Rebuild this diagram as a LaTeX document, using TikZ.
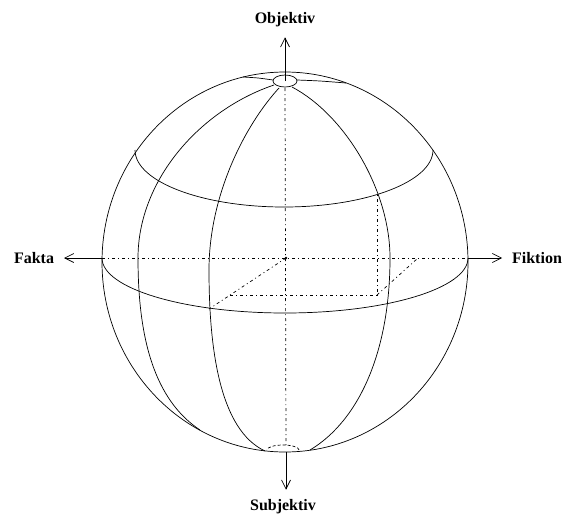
\documentclass[tikz,border=0pt]{standalone}
\usepackage{fontspec}
\setmainfont{Liberation Serif}
\usepackage{tikz}
\usetikzlibrary{positioning, arrows.meta}

\begin{document}
\begin{tikzpicture}[
  x=1pt, y=-1pt,
  >={Straight Barb[length=9pt, width=9pt]},
  globe/.style={line width=0.7pt},
  axisline/.style={line width=0.7pt, dash pattern=on 3pt off 3pt on 1pt off 3pt},
  axisarrow/.style={->, line width=0.7pt},
  axislabel/.style={font=\bfseries\fontsize{16}{19}\selectfont, inner sep=0pt, outer sep=10pt},
]
  \useasboundingbox (0,0) rectangle (569,517);

  % Points on the globe
  \coordinate (O) at (286,258);
  \coordinate (N) at (285,81);
  \coordinate (Nb) at (285,88);
  \coordinate (S) at (286,452);
  \coordinate (Sb) at (286,446);
  \coordinate (L) at (102,258);
  \coordinate (R) at (468,258);

  % Outline and pole caps
  \draw[globe] (285,262) ellipse [x radius=183, y radius=190];
  \draw[globe] (N) ellipse [x radius=12, y radius=6];
  \draw[globe] plot[smooth] coordinates {(273,80) (258,78) (243,77)};
  \draw[globe] plot[smooth] coordinates {(297,80) (320,81) (346,83)};
  \draw[globe, dash pattern=on 3pt off 2pt] (299,450) arc[start angle=0, end angle=-180, x radius=16, y radius=5];

  % Meridians
  \draw[globe] (274,85) .. controls (200,110) and (138,180) .. (138,258)
                        .. controls (138,340) and (155,400) .. (200,430);
  \draw[globe] (279,88) .. controls (245,125) and (209,195) .. (209,270)
                        .. controls (209,350) and (220,430) .. (265,451);
  \draw[globe] (292,87) .. controls (345,115) and (390,190) .. (390,258)
                        .. controls (390,350) and (360,420) .. (310,450);

  % Latitude rings
  \draw[globe] (433,150) arc[start angle=0, end angle=180, x radius=149, y radius=57];
  \draw[globe] (R) arc[start angle=0, end angle=180, x radius=183, y radius=55];

  % Axes inside
  \draw[axisline] (L) -- (R);
  \draw[axisline] (Nb) -- (Sb);
  \fill (O) circle (1.3);

  % Dotted box
  \coordinate (F) at (209,309);
  \coordinate (P) at (230,295);
  \coordinate (Q) at (377,295);
  \coordinate (U) at (377,195);
  \coordinate (V) at (418,258);
  \draw[axisline] (O) -- (F);
  \draw[axisline] (P) -- (Q) -- (U);
  \draw[axisline] (Q) -- (V);

  % Labels
  \node[axislabel] (obj) at (285,20) {Objektiv};
  \node[axislabel] (subj) at (283,507) {Subjektiv};
  \node[axislabel] (fakta) at (34,258) {Fakta};
  \node[axislabel] (fikt) at (537,258) {Fiktion};

  \draw[axisarrow] (N) -- (N |- obj.south);
  \draw[axisarrow] (S) -- (S |- subj.north);
  \draw[axisarrow] (L) -- (L -| fakta.east);
  \draw[axisarrow] (R) -- (R -| fikt.west);
\end{tikzpicture}
\end{document}
